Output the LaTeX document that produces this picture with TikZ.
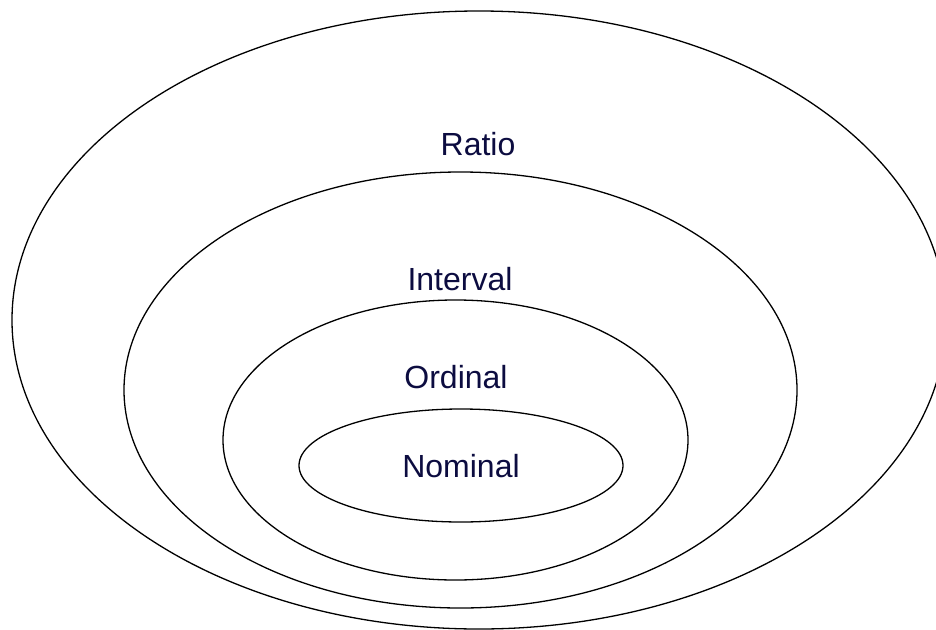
\documentclass[tikz,border=0pt]{standalone}
\usepackage{fontspec}
\setmainfont{Liberation Sans}
\usetikzlibrary{shapes.geometric}
\definecolor{labelnavy}{RGB}{12,12,64}
\tikzset{
  ring/.style={ellipse, draw=black, line width=1.3pt, inner sep=0pt, fill=none},
  lbl/.style={text=labelnavy, font=\fontsize{32}{38}\selectfont, anchor=base, inner sep=0pt}
}
\begin{document}
\begin{tikzpicture}[x=1pt,y=-1pt]
\useasboundingbox (0,0) rectangle (936,629);
\clip (0,0) rectangle (936,629);
\fill[white] (0,0) rectangle (936,629);
\node[ring, minimum width=934pt, minimum height=618pt] (ratio) at (479,320) {};
\node[ring, minimum width=673pt, minimum height=436pt] (interval) at (460.5,390) {};
\node[ring, minimum width=465pt, minimum height=280pt] (ordinal) at (455.5,440) {};
\node[ring, minimum width=324pt, minimum height=113pt] (nominal) at (461,465.5) {};
\node[lbl] (tratio) at (478,155) {Ratio};
\node[lbl] (tinterval) at (460,290) {Interval};
\node[lbl] (tordinal) at (456,388) {Ordinal};
\node[lbl] (tnominal) at (461,477) {Nominal};
\end{tikzpicture}
\end{document}
